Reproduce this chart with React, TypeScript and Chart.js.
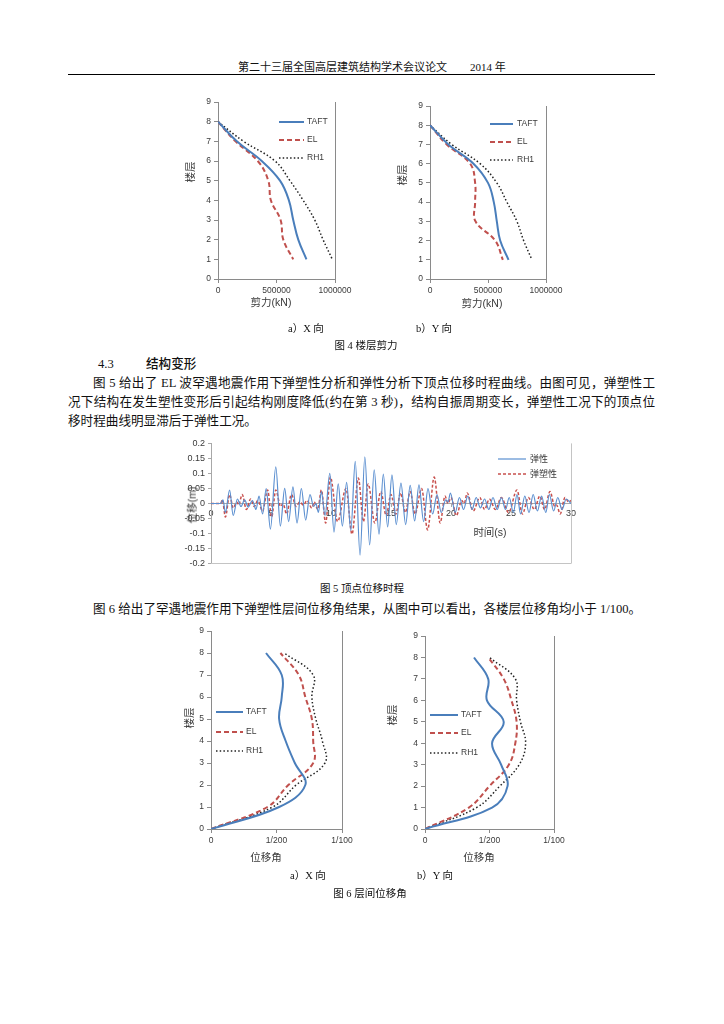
import React, { useEffect, useRef } from "react";
import { Chart, registerables } from "chart.js";
Chart.register(...registerables);

const SERIF = "'Liberation Serif', 'Noto Sans CJK SC', serif";
const SANS = "'Liberation Sans', 'Noto Sans CJK SC', sans-serif";
const BLUE = "#4A7EBB";
const RED = "#C0504D";
const DOT = "#222222";
const AXIS = "#8a8a8a";
const TICKTXT = "#3a3a3a";

// ---------- Figure 4: storey shear ----------
const storeys4 = [8, 7, 6, 5, 4, 3, 2, 1];
const shearX_TAFT = [0, 161000, 374000, 530000, 606000, 643000, 686000, 756000];
const shearX_EL = [0, 150000, 340000, 430000, 452000, 535000, 558000, 643000];
const shearX_RH1 = [0, 218000, 487000, 615000, 728000, 827000, 898000, 977000];
const shearY_TAFT = [0, 158000, 375000, 500000, 550000, 576000, 605000, 677000];
const shearY_EL = [0, 144000, 346000, 389000, 389000, 392000, 562000, 628000];
const shearY_RH1 = [0, 187000, 432000, 576000, 663000, 749000, 807000, 879000];
const shearTicks = [0, 500000, 1000000];
const shearTickLabels = ["0", "500000", "1000000"];

// ---------- Figure 6: inter-storey drift ----------
const storeys6 = [0, 1, 2, 3, 4, 5, 6, 7, 8];
const driftX_TAFT = [0, 0.0052, 0.0072, 0.0064, 0.0057, 0.0052, 0.0054, 0.0054, 0.0042];
const driftX_EL = [0, 0.0043, 0.0059, 0.0078, 0.0078, 0.0077, 0.0072, 0.0067, 0.0053];
const driftX_RH1 = [0, 0.0047, 0.0065, 0.0087, 0.0085, 0.008, 0.0077, 0.0078, 0.0056];
const driftY_TAFT = [0, 0.0052, 0.0064, 0.0059, 0.0052, 0.0061, 0.0048, 0.0049, 0.0038];
const driftY_EL = [0, 0.0034, 0.005, 0.0065, 0.007, 0.0071, 0.0067, 0.0061, 0.0049];
const driftY_RH1 = [0, 0.004, 0.0058, 0.0073, 0.0078, 0.0074, 0.0071, 0.007, 0.005];
const driftTicks = [0, 0.005, 0.01];
const driftTickLabels = ["0", "1/200", "1/100"];

const storeyTicks = [0, 1, 2, 3, 4, 5, 6, 7, 8, 9];

// ---------- Figure 5: roof displacement time history (extrema, s / m) ----------
const elasticTH = [
  [0, 0], [0.8, 0], [1.0, 0.012], [1.2, -0.03], [1.55, 0.045], [1.85, -0.04], [2.2, 0.015], [2.5, -0.01],
  [2.8, 0.012], [3.1, -0.012], [3.45, 0.01], [3.75, -0.02], [4.0, 0.025], [4.3, -0.035], [4.6, 0.05],
  [4.95, -0.085], [5.4, 0.122], [5.78, -0.075], [6.14, 0.05], [6.47, -0.06], [6.83, 0.055], [7.17, -0.065],
  [7.53, 0.05], [7.89, -0.055], [8.25, 0.03], [8.55, -0.01], [8.75, 0.0], [8.95, -0.03], [9.2, 0.04],
  [9.5, -0.04], [9.9, 0.1], [10.25, -0.095], [10.6, 0.065], [10.95, -0.075], [11.3, 0.07], [11.65, -0.09],
  [12.02, 0.14], [12.42, -0.172], [12.82, 0.155], [13.22, -0.138], [13.6, 0.112], [14.0, -0.102],
  [14.36, 0.098], [14.72, -0.078], [15.08, 0.095], [15.44, -0.07], [15.83, 0.068], [16.22, -0.07],
  [16.6, 0.06], [16.97, -0.058], [17.33, 0.062], [17.72, -0.06], [18.08, 0.05], [18.47, -0.035],
  [18.83, 0.03], [19.19, -0.03], [19.56, 0.012], [19.75, 0.005], [19.95, 0.035], [20.35, -0.03],
  [20.7, 0.02], [21.05, -0.02], [21.4, 0.025], [21.75, -0.02], [22.1, 0.02], [22.45, -0.015], [22.8, 0.015],
  [23.15, -0.02], [23.5, 0.02], [23.85, -0.02], [24.2, 0.02], [24.55, -0.02], [24.85, 0.02], [25.2, -0.03],
  [25.5, 0.03], [25.8, -0.035], [26.15, 0.025], [26.5, -0.03], [26.85, 0.03], [27.2, -0.025], [27.55, 0.025],
  [27.9, -0.03], [28.2, 0.03], [28.55, -0.025], [28.9, 0.02], [29.25, -0.02], [29.6, 0.015], [30.0, 0.0],
];
const plasticTH = [
  [0, 0], [0.8, 0], [0.95, 0.012], [1.2, -0.045], [1.55, 0.03], [1.85, -0.015], [2.15, 0.005], [2.3, -0.005],
  [2.6, 0.03], [2.95, -0.02], [3.3, 0.015], [3.6, -0.01], [3.9, 0.01], [4.3, -0.025], [4.72, 0.045],
  [5.05, -0.045], [5.4, 0.045], [5.8, -0.01], [6.0, 0.0], [6.3, -0.035], [6.7, 0.03], [7.1, -0.01],
  [7.4, 0.005], [7.7, -0.005], [8.0, 0.01], [8.4, -0.015], [8.6, 0.005], [8.9, -0.02], [9.2, 0.045],
  [9.55, -0.065], [9.95, 0.088], [10.55, -0.06], [11.25, 0.05], [11.75, -0.102], [12.28, 0.085],
  [12.7, -0.06], [13.1, 0.065], [13.65, -0.065], [14.15, 0.04], [14.6, -0.04], [15.0, 0.03], [15.4, -0.035],
  [15.8, 0.035], [16.2, -0.03], [16.6, 0.04], [17.0, -0.035], [17.55, 0.05], [18.05, -0.088], [18.6, 0.088],
  [19.1, -0.065], [19.5, 0.025], [19.75, 0.0], [20.0, 0.02], [20.45, -0.04], [20.9, 0.01], [21.1, 0.0],
  [21.35, 0.035], [21.85, -0.025], [22.4, 0.02], [22.8, -0.02], [23.2, 0.015], [23.7, -0.02], [24.2, 0.02],
  [24.8, -0.03], [25.5, 0.045], [25.95, -0.035], [26.45, 0.02], [26.95, -0.02], [27.4, 0.025], [27.8, -0.02],
  [28.25, 0.04], [28.65, -0.01], [28.8, -0.005], [29.1, -0.035], [29.5, 0.02], [29.8, 0.005], [30, 0.01],
];
const thYTicks = [-0.2, -0.15, -0.1, -0.05, 0, 0.05, 0.1, 0.15, 0.2];

type Series = { label: string; xs: number[]; ys: number[]; color: string; width: number; dash: number[] };
type Rect = { L: number; T: number; R: number; B: number };
type LegendPos = { x0: number; x1: number; y: number; tx: number };

const PAD = { l: 32, t: 10, r: 26, b: 22 };

function framePlugin(sides: string[], color: string) {
  return {
    id: "frame",
    afterDraw(chart: any) {
      const { ctx, chartArea: a } = chart;
      ctx.save();
      ctx.strokeStyle = color;
      ctx.lineWidth = 1;
      ctx.beginPath();
      if (sides.includes("right")) {
        const x = Math.round(a.right) + 0.5;
        ctx.moveTo(x, a.top);
        ctx.lineTo(x, a.bottom);
      }
      if (sides.includes("bottom")) {
        const y = Math.round(a.bottom) - 0.5;
        ctx.moveTo(a.left, y);
        ctx.lineTo(a.right, y);
      }
      ctx.stroke();
      ctx.restore();
    },
  };
}

function legendPlugin(items: LegendPos[], ox: number, oy: number, font: string, color: string) {
  return {
    id: "inlineLegend",
    afterDraw(chart: any) {
      const ctx = chart.ctx;
      chart.data.datasets.forEach((ds: any, i: number) => {
        const it = items[i];
        if (!it) return;
        ctx.save();
        ctx.strokeStyle = ds.borderColor;
        ctx.lineWidth = ds.borderWidth;
        ctx.setLineDash(ds.borderDash || []);
        ctx.beginPath();
        ctx.moveTo(it.x0 - ox, it.y - oy);
        ctx.lineTo(it.x1 - ox, it.y - oy);
        ctx.stroke();
        ctx.setLineDash([]);
        ctx.fillStyle = color;
        ctx.font = font;
        ctx.textBaseline = "middle";
        ctx.fillText(ds.label, it.tx - ox, it.y - oy);
        ctx.restore();
      });
    },
  };
}

function ProfileChart(props: {
  rect: Rect;
  xMax: number;
  xTicks: number[];
  xTickLabels: string[];
  series: Series[];
  legend: LegendPos[];
}) {
  const ref = useRef<HTMLCanvasElement>(null);
  const { rect } = props;
  const w = rect.R - rect.L + PAD.l + PAD.r;
  const h = rect.B - rect.T + PAD.t + PAD.b;
  const ox = rect.L - PAD.l;
  const oy = rect.T - PAD.t;
  useEffect(() => {
    const chart = new Chart(ref.current as HTMLCanvasElement, {
      type: "scatter",
      data: {
        datasets: props.series.map((s) => ({
          label: s.label,
          data: s.xs.map((x, i) => ({ x, y: s.ys[i] })),
          showLine: true,
          borderColor: s.color,
          backgroundColor: s.color,
          borderWidth: s.width,
          borderDash: s.dash,
          pointRadius: 0,
          tension: 0.4,
          fill: false,
        })),
      },
      options: {
        animation: false,
        responsive: false,
        events: [],
        layout: { padding: { left: 0, top: PAD.t, right: PAD.r, bottom: 0 } },
        plugins: { legend: { display: false }, tooltip: { enabled: false } },
        scales: {
          x: {
            type: "linear",
            min: 0,
            max: props.xMax,
            afterBuildTicks: (sc: any) => {
              sc.ticks = props.xTicks.map((v) => ({ value: v }));
            },
            afterFit: (sc: any) => {
              sc.height = PAD.b;
            },
            ticks: {
              autoSkip: false,
              maxRotation: 0,
              padding: 3,
              color: TICKTXT,
              font: { family: "Liberation Sans", size: 8.5 },
              callback: (_v: any, i: number) => props.xTickLabels[i],
            },
            grid: { drawOnChartArea: false, drawTicks: true, tickLength: 4, color: AXIS },
            border: { color: AXIS, width: 1 },
          },
          y: {
            type: "linear",
            min: 0,
            max: 9,
            afterBuildTicks: (sc: any) => {
              sc.ticks = storeyTicks.map((v) => ({ value: v }));
            },
            afterFit: (sc: any) => {
              sc.width = PAD.l;
            },
            ticks: {
              autoSkip: false,
              padding: 3,
              color: TICKTXT,
              font: { family: "Liberation Sans", size: 8.5 },
              callback: (v: any) => String(v),
            },
            grid: { drawOnChartArea: false, drawTicks: true, tickLength: 4, color: AXIS },
            border: { color: AXIS, width: 1 },
          },
        },
      },
      plugins: [
        framePlugin(["right"], AXIS),
        legendPlugin(props.legend, ox, oy, "8.5px 'Liberation Sans'", TICKTXT),
      ],
    } as any);
    return () => chart.destroy();
  }, []);
  return (
    <canvas
      ref={ref}
      width={w}
      height={h}
      style={{ position: "absolute", left: ox, top: oy, width: w, height: h }}
    />
  );
}

const TH = { L: 211, T: 443, R: 571, B: 566 };
const THPAD = { l: 30, t: 8, r: 12, b: 6 };

function TimeHistoryChart() {
  const ref = useRef<HTMLCanvasElement>(null);
  const w = TH.R - TH.L + THPAD.l + THPAD.r;
  const h = TH.B - TH.T + THPAD.t + THPAD.b;
  const ox = TH.L - THPAD.l;
  const oy = TH.T - THPAD.t;
  useEffect(() => {
    const chart = new Chart(ref.current as HTMLCanvasElement, {
      type: "line",
      data: {
        datasets: [
          {
            label: "弹性",
            data: elasticTH.map(([t, v]) => ({ x: t, y: v })),
            borderColor: "#5b8fd0",
            borderWidth: 1.2,
            borderDash: [],
            pointRadius: 0,
            cubicInterpolationMode: "monotone",
            fill: false,
          },
          {
            label: "弹塑性",
            data: plasticTH.map(([t, v]) => ({ x: t, y: v })),
            borderColor: "#C8504D",
            borderWidth: 1.5,
            borderDash: [3, 2],
            pointRadius: 0,
            cubicInterpolationMode: "monotone",
            fill: false,
          },
        ],
      },
      options: {
        animation: false,
        responsive: false,
        events: [],
        layout: { padding: { left: 0, top: THPAD.t, right: THPAD.r, bottom: THPAD.b } },
        plugins: { legend: { display: false }, tooltip: { enabled: false } },
        scales: {
          x: {
            type: "linear",
            min: 0,
            max: 30,
            position: { y: 0 },
            ticks: {
              stepSize: 5,
              autoSkip: false,
              maxRotation: 0,
              padding: 2,
              color: TICKTXT,
              font: { family: "Liberation Sans", size: 9 },
            },
            grid: { drawOnChartArea: false, drawTicks: true, tickLength: 3, color: "#a8a8a8" },
            border: { color: "#a8a8a8", width: 1 },
          },
          y: {
            type: "linear",
            min: -0.2,
            max: 0.2,
            afterBuildTicks: (sc: any) => {
              sc.ticks = thYTicks.map((v) => ({ value: v }));
            },
            afterFit: (sc: any) => {
              sc.width = THPAD.l;
            },
            ticks: {
              autoSkip: false,
              padding: 3,
              color: TICKTXT,
              font: { family: "Liberation Sans", size: 9 },
              callback: (v: any) => String(Math.round(Number(v) * 100) / 100),
            },
            grid: { drawOnChartArea: false, drawTicks: true, tickLength: 3, color: "#a8a8a8" },
            border: { color: "#a8a8a8", width: 1 },
          },
        },
      },
      plugins: [
        framePlugin(["right", "bottom"], "#c4c4c4"),
        legendPlugin(
          [
            { x0: 498, x1: 526, y: 459, tx: 530 },
            { x0: 498, x1: 526, y: 474, tx: 530 },
          ],
          ox,
          oy,
          "9px 'Noto Sans CJK SC'",
          TICKTXT
        ),
      ],
    } as any);
    return () => chart.destroy();
  }, []);
  return (
    <canvas
      ref={ref}
      width={w}
      height={h}
      style={{ position: "absolute", left: ox, top: oy, width: w, height: h }}
    />
  );
}

function Txt(props: {
  x: number;
  y: number;
  children: React.ReactNode;
  size?: number;
  family?: string;
  color?: string;
  anchor?: "start" | "middle";
  rotate?: boolean;
  weight?: number;
}) {
  const { x, y, size = 12.6, family = SERIF, color = "#111", anchor = "start", rotate = false, weight = 400 } = props;
  const tx = anchor === "middle" || rotate ? "-50%" : "0";
  return (
    <div
      style={{
        position: "absolute",
        left: x,
        top: y,
        transform: `translate(${tx}, -50%)${rotate ? " rotate(-90deg)" : ""}`,
        whiteSpace: "nowrap",
        fontSize: size,
        fontFamily: family,
        fontWeight: weight,
        color,
        lineHeight: 1,
      }}
    >
      {props.children}
    </div>
  );
}

function JLine(props: { x: number; right: number; y: number; children: React.ReactNode }) {
  return (
    <div
      style={{
        position: "absolute",
        left: props.x,
        top: props.y,
        width: props.right - props.x,
        transform: "translateY(-50%)",
        fontSize: 12.6,
        fontFamily: SERIF,
        color: "#111",
        lineHeight: 1,
        textAlign: "justify",
        textAlignLast: "justify" as any,
      }}
    >
      {props.children}
    </div>
  );
}

const legend4a: LegendPos[] = [
  { x0: 279, x1: 304, y: 122, tx: 307 },
  { x0: 279, x1: 304, y: 140, tx: 307 },
  { x0: 279, x1: 304, y: 158, tx: 307 },
];
const legend4b: LegendPos[] = [
  { x0: 490, x1: 513, y: 124, tx: 517 },
  { x0: 490, x1: 513, y: 142, tx: 517 },
  { x0: 490, x1: 513, y: 160, tx: 517 },
];
const legend6a: LegendPos[] = [
  { x0: 216, x1: 243, y: 712, tx: 246 },
  { x0: 216, x1: 243, y: 732, tx: 246 },
  { x0: 216, x1: 243, y: 751, tx: 246 },
];
const legend6b: LegendPos[] = [
  { x0: 430, x1: 458, y: 715, tx: 461 },
  { x0: 430, x1: 458, y: 733, tx: 461 },
  { x0: 430, x1: 458, y: 753, tx: 461 },
];

function mk(label: string, xs: number[], ys: number[]): Series {
  if (label === "TAFT") return { label, xs, ys, color: BLUE, width: 2, dash: [] };
  if (label === "EL") return { label, xs, ys, color: RED, width: 2, dash: [5, 3] };
  return { label, xs, ys, color: DOT, width: 1.5, dash: [1.5, 2.2] };
}

export default function App() {
  const axTitle = { size: 10.5, family: SANS, color: "#3a3a3a" };
  return (
    <div
      style={{
        position: "absolute",
        left: 0,
        top: 0,
        width: 724,
        height: 1024,
        background: "#fff",
        overflow: "hidden",
      }}
    >
      {/* header */}
      <Txt x={238} y={67} size={11}>第二十三届全国高层建筑结构学术会议论文</Txt>
      <Txt x={470} y={67} size={11}>2014 年</Txt>
      <div style={{ position: "absolute", left: 68, top: 74, width: 587, height: 1.4, background: "#000" }} />

      {/* Figure 4 */}
      <ProfileChart
        rect={{ L: 218, T: 102, R: 335, B: 279 }}
        xMax={1000000}
        xTicks={shearTicks}
        xTickLabels={shearTickLabels}
        series={[mk("TAFT", shearX_TAFT, storeys4), mk("EL", shearX_EL, storeys4), mk("RH1", shearX_RH1, storeys4)]}
        legend={legend4a}
      />
      <ProfileChart
        rect={{ L: 430, T: 106, R: 546, B: 279 }}
        xMax={1000000}
        xTicks={shearTicks}
        xTickLabels={shearTickLabels}
        series={[mk("TAFT", shearY_TAFT, storeys4), mk("EL", shearY_EL, storeys4), mk("RH1", shearY_RH1, storeys4)]}
        legend={legend4b}
      />
      <Txt x={190} y={172} rotate {...axTitle}>楼层</Txt>
      <Txt x={402} y={175} rotate {...axTitle}>楼层</Txt>
      <Txt x={271} y={302} anchor="middle" {...axTitle}>剪力(kN)</Txt>
      <Txt x={482} y={303} anchor="middle" {...axTitle}>剪力(kN)</Txt>

      <Txt x={288} y={329} size={10.5}>a）X 向</Txt>
      <Txt x={416} y={329} size={10.5}>b）Y 向</Txt>
      <Txt x={366} y={346} size={10.5} anchor="middle">图 4 楼层剪力</Txt>

      {/* section text */}
      <Txt x={98} y={364} size={12.6}>4.3</Txt>
      <Txt x={146} y={364} size={12.6} family={SANS} weight={500}>结构变形</Txt>
      <JLine x={93} right={655} y={383}>
        图 5 给出了 EL 波罕遇地震作用下弹塑性分析和弹性分析下顶点位移时程曲线。由图可见，弹塑性工
      </JLine>
      <JLine x={68} right={655} y={402}>
        况下结构在发生塑性变形后引起结构刚度降低(约在第 3 秒)，结构自振周期变长，弹塑性工况下的顶点位
      </JLine>
      <Txt x={68} y={421}>移时程曲线明显滞后于弹性工况。</Txt>

      {/* Figure 5 */}
      <TimeHistoryChart />
      <Txt x={192} y={505} rotate {...axTitle}>位移(m)</Txt>
      <Txt x={490} y={532} anchor="middle" {...axTitle}>时间(s)</Txt>
      <Txt x={362} y={589} size={10.5} anchor="middle">图 5 顶点位移时程</Txt>

      <Txt x={93} y={609}>图 6 给出了罕遇地震作用下弹塑性层间位移角结果，从图中可以看出，各楼层位移角均小于 1/100。</Txt>

      {/* Figure 6 */}
      <ProfileChart
        rect={{ L: 211, T: 631, R: 342, B: 829 }}
        xMax={0.01}
        xTicks={driftTicks}
        xTickLabels={driftTickLabels}
        series={[mk("TAFT", driftX_TAFT, storeys6), mk("EL", driftX_EL, storeys6), mk("RH1", driftX_RH1, storeys6)]}
        legend={legend6a}
      />
      <ProfileChart
        rect={{ L: 425, T: 636, R: 554, B: 829 }}
        xMax={0.01}
        xTicks={driftTicks}
        xTickLabels={driftTickLabels}
        series={[mk("TAFT", driftY_TAFT, storeys6), mk("EL", driftY_EL, storeys6), mk("RH1", driftY_RH1, storeys6)]}
        legend={legend6b}
      />
      <Txt x={189} y={718} rotate {...axTitle}>楼层</Txt>
      <Txt x={392} y={715} rotate {...axTitle}>楼层</Txt>
      <Txt x={266} y={857} anchor="middle" {...axTitle}>位移角</Txt>
      <Txt x={479} y={857} anchor="middle" {...axTitle}>位移角</Txt>

      <Txt x={290} y={876} size={10.5}>a）X 向</Txt>
      <Txt x={417} y={876} size={10.5}>b）Y 向</Txt>
      <Txt x={370} y={894} size={10.5} anchor="middle">图 6 层间位移角</Txt>
    </div>
  );
}
